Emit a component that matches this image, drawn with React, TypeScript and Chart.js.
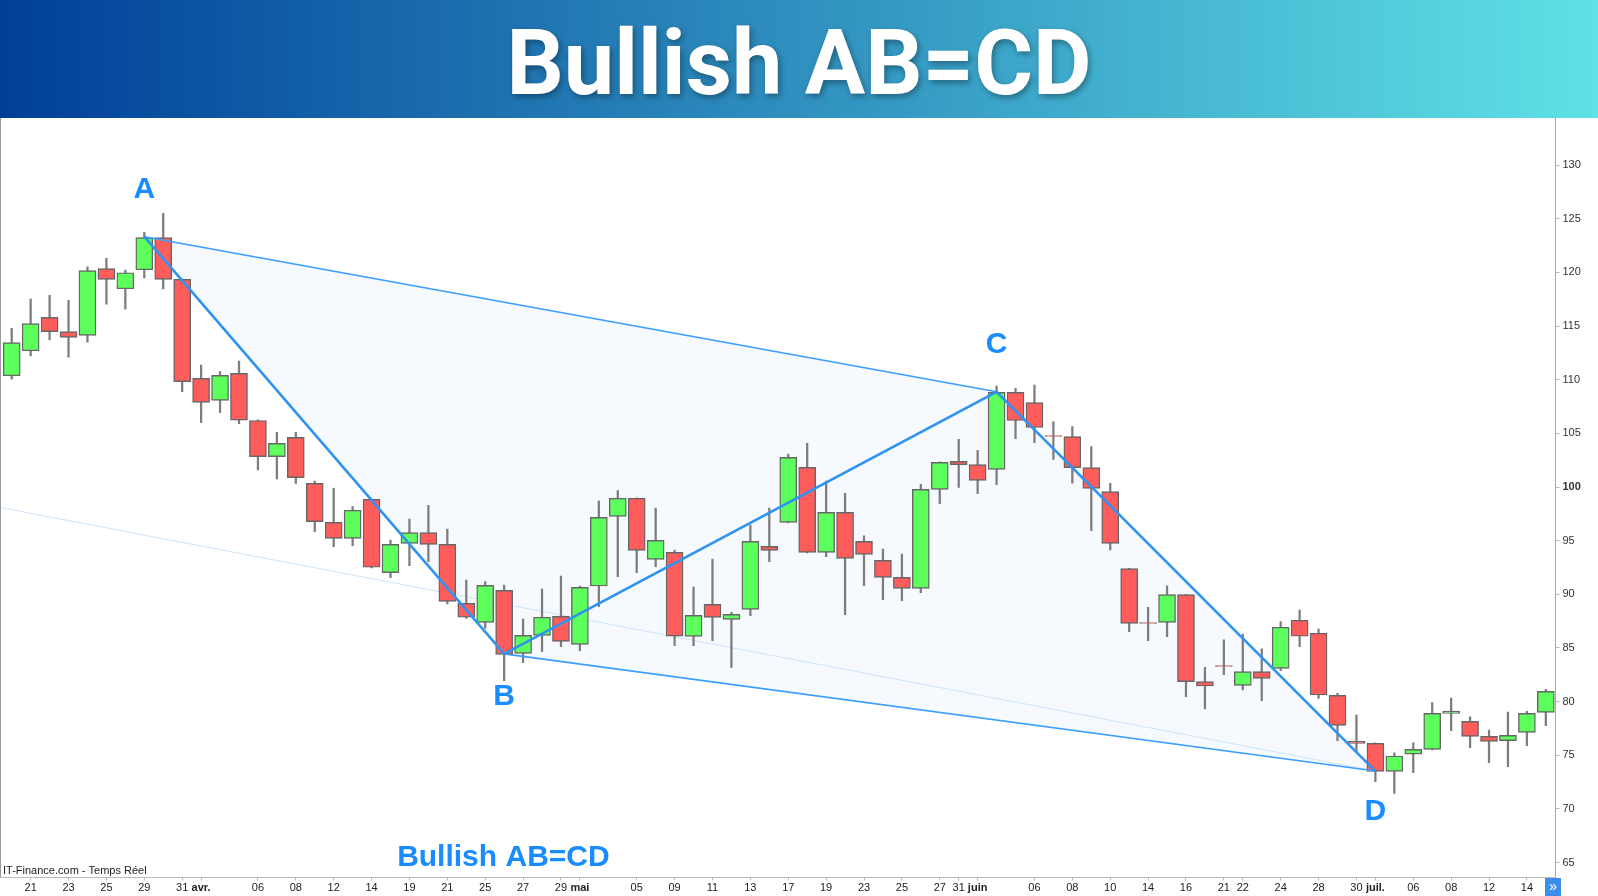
import React, { useEffect, useRef } from 'react';
import { Chart, registerables } from 'chart.js';
Chart.register(...registerables);

// ---- Candles (index 0..81) ----
const candleOpen = [
  110.37, 112.7, 115.81, 114.48, 114.13, 120.35, 118.48, 120.25, 123.24, 119.35,
  110.13, 108.08, 110.59, 106.2, 102.84, 104.63, 100.34, 96.71, 95.22, 98.85,
  92.02, 94.75, 95.75, 94.66, 89.16, 87.39, 90.37, 84.5, 86.18, 87.95,
  85.34, 90.78, 97.27, 98.95, 93.26, 93.91, 86.08, 89.06, 87.66, 88.6,
  94.47, 96.71, 101.83, 93.91, 97.64, 94.93, 93.16, 91.58, 90.55, 99.78,
  102.39, 102.08, 101.64, 108.82, 107.86, 104.8, 104.69, 101.81, 99.57, 92.39,
  87.36, 87.39, 89.97, 81.86, 83.35, 81.52, 82.79, 83.1, 87.58, 86.37,
  80.58, 76.29, 76.11, 73.5, 75.11, 75.55, 78.9, 78.16, 76.76, 76.36,
  77.13, 79.0,
];
const candleHigh = [
  114.79, 117.52, 117.86, 117.4, 120.53, 121.31, 120.22, 123.73, 125.5, 119.4,
  111.37, 110.75, 111.74, 106.25, 105.1, 105.1, 100.56, 99.88, 98.17, 98.9,
  95.06, 97.02, 98.29, 96.09, 91.33, 91.18, 90.87, 87.7, 90.5, 91.71,
  90.77, 98.7, 99.66, 99.0, 98.04, 94.13, 90.68, 93.29, 88.32, 96.46,
  98.04, 103.07, 104.07, 100.56, 99.41, 95.46, 94.22, 93.75, 100.25, 102.35,
  104.44, 103.42, 109.41, 109.19, 109.5, 106.09, 105.63, 103.76, 100.35, 92.42,
  88.79, 90.78, 90.0, 83.2, 85.75, 86.3, 84.91, 87.45, 88.54, 86.77,
  80.77, 78.75, 76.15, 75.24, 76.17, 79.9, 80.33, 78.59, 77.35, 79.03,
  79.09, 81.14,
];
const candleLow = [
  110.06, 112.21, 113.7, 112.11, 113.51, 117.05, 116.59, 119.48, 118.45, 108.88,
  105.99, 106.93, 105.9, 101.6, 100.75, 100.34, 95.84, 94.44, 94.53, 92.45,
  91.55, 92.67, 93.04, 89.1, 87.76, 86.83, 81.95, 83.63, 84.66, 85.12,
  84.75, 88.85, 91.65, 92.02, 92.58, 85.21, 85.21, 85.68, 83.19, 88.01,
  93.04, 96.65, 93.85, 93.51, 88.1, 90.8, 89.5, 89.4, 90.15, 98.44,
  99.97, 99.38, 100.22, 104.5, 104.13, 102.58, 100.35, 95.93, 94.13, 86.52,
  85.68, 86.06, 80.46, 79.31, 82.51, 81.09, 80.09, 82.89, 85.12, 80.31,
  76.36, 75.33, 72.54, 71.45, 73.37, 75.5, 77.29, 75.7, 74.31, 73.93,
  75.89, 77.75,
];
const candleClose = [
  113.45, 115.22, 114.48, 113.95, 120.16, 119.35, 119.97, 123.24, 119.35, 109.82,
  107.89, 110.41, 106.24, 102.84, 104.07, 100.87, 96.77, 95.22, 97.83, 92.52,
  94.66, 95.75, 94.66, 89.35, 87.86, 90.84, 84.41, 86.18, 87.86, 85.62,
  90.65, 97.17, 98.95, 94.1, 95.03, 86.1, 88.04, 87.85, 88.13, 94.93,
  94.1, 102.76, 93.91, 97.64, 93.35, 93.72, 91.58, 90.55, 99.78, 102.3,
  102.08, 100.62, 108.82, 106.2, 105.55, 104.74, 101.81, 99.88, 94.75, 87.3,
  87.3, 89.97, 81.86, 81.46, 83.3, 82.79, 82.17, 86.93, 86.09, 80.62,
  77.79, 76.11, 73.5, 74.93, 75.55, 78.9, 79.12, 76.76, 76.29, 76.85,
  78.9, 80.95,
];

// ---- X axis labels (candle index -> text) ----
const xLabelIndex = [1, 3, 5, 7, 9, 10, 13, 15, 17, 19, 21, 23, 25, 27, 29, 30, 33, 35, 37, 39, 41, 43, 45, 47, 49, 50, 51, 54, 56, 58, 60, 62, 64, 65, 67, 69, 71, 72, 74, 76, 78, 80];
const xLabelText = ['21', '23', '25', '29', '31', 'avr.', '06', '08', '12', '14', '19', '21', '25', '27', '29', 'mai', '05', '09', '11', '13', '17', '19', '23', '25', '27', '31', 'juin', '06', '08', '10', '14', '16', '21', '22', '24', '28', '30', 'juil.', '06', '08', '12', '14'];
const monthLabels = ['avr.', 'mai', 'juin', 'juil.'];

// ---- Y axis ticks ----
const yTicks = [65, 70, 75, 80, 85, 90, 95, 100, 105, 110, 115, 120, 125, 130];

// ---- AB=CD pattern points ----
const patternNames = ['A', 'B', 'C', 'D'];
const patternX = [7, 26, 52, 72];
const patternY = [123.33, 84.45, 108.88, 73.53];
const letterY = [127.7, 80.5, 113.3, 69.7];

// faint guide line
const guideX = [-0.62, 72];
const guideY = [98.1, 73.53];

// bottom caption
const captionText = 'Bullish AB=CD';
const captionX = 25.96;
const captionY = 65.42;
const sourceText = 'IT-Finance.com - Temps Réel';

const titleText = 'Bullish AB=CD';

const GREEN = '#5cff5c';
const RED = '#ff5c5c';

export default function App() {
  const ref = useRef<HTMLCanvasElement>(null);

  useEffect(() => {
    document.body.style.margin = '0';
    const canvas = ref.current;
    if (!canvas) return;
    const idx = candleOpen.map((_, i) => i);
    const pt = (k: number) => ({ x: patternX[k], y: patternY[k] });

    const annotPlugin = {
      id: 'annot',
      afterDatasetsDraw(chart: any) {
        const { ctx, scales, chartArea } = chart;
        const xs = scales.x;
        const ys = scales.y;
        ctx.save();
        ctx.fillStyle = '#1a8cff';
        ctx.font = 'bold 30px "Liberation Sans", Arial, sans-serif';
        ctx.textAlign = 'center';
        ctx.textBaseline = 'middle';
        patternNames.forEach((n, k) => {
          ctx.fillText(n, xs.getPixelForValue(patternX[k]), ys.getPixelForValue(letterY[k]));
        });
        ctx.fillText(captionText, xs.getPixelForValue(captionX), ys.getPixelForValue(captionY));
        ctx.fillStyle = '#222';
        ctx.font = '11px "Liberation Sans", Arial, sans-serif';
        ctx.textAlign = 'left';
        ctx.textBaseline = 'bottom';
        ctx.fillText(sourceText, chartArea.left + 3, chartArea.bottom - 1);
        ctx.strokeStyle = '#999';
        ctx.lineWidth = 1;
        ctx.beginPath();
        ctx.moveTo(chartArea.left + 0.5, chartArea.top);
        ctx.lineTo(chartArea.left + 0.5, chartArea.bottom);
        ctx.stroke();
        ctx.restore();
      },
    };

    const chart = new Chart(canvas, {
      type: 'bar',
      data: {
        datasets: [
          {
            type: 'line',
            data: [pt(0), pt(2), pt(3), pt(1), pt(0)],
            fill: 'shape',
            backgroundColor: '#f6faff',
            borderWidth: 0,
            borderColor: 'rgba(0,0,0,0)',
            pointRadius: 0,
            tension: 0,
            order: 10,
          } as any,
          {
            type: 'line',
            data: guideX.map((x, i) => ({ x, y: guideY[i] })),
            borderColor: '#cde3fb',
            borderWidth: 1,
            pointRadius: 0,
            fill: false,
            order: 9,
          } as any,
          {
            type: 'bar',
            data: idx.map((i) => ({ x: i, y: [candleLow[i], candleHigh[i]] })),
            backgroundColor: '#7d7d7d',
            barThickness: 1.6,
            grouped: false,
            order: 8,
          } as any,
          {
            type: 'bar',
            data: idx.map((i) => ({
              x: i,
              y: [candleOpen[i], Math.abs(candleClose[i] - candleOpen[i]) < 0.08 ? candleOpen[i] - 0.08 : candleClose[i]],
            })),
            backgroundColor: idx.map((i) => (candleClose[i] > candleOpen[i] ? GREEN : RED)),
            borderColor: '#666',
            borderWidth: 1.4,
            borderSkipped: false,
            barThickness: 17,
            grouped: false,
            order: 7,
          } as any,
          {
            type: 'line',
            data: [pt(0), pt(2)],
            borderColor: '#3a9eff',
            borderWidth: 1.6,
            pointRadius: 0,
            fill: false,
            order: 2,
          } as any,
          {
            type: 'line',
            data: [pt(1), pt(3)],
            borderColor: '#3a9eff',
            borderWidth: 1.6,
            pointRadius: 0,
            fill: false,
            order: 2,
          } as any,
          {
            type: 'line',
            data: [pt(0), pt(1), pt(2), pt(3)],
            borderColor: '#2f93f0',
            borderWidth: 2.6,
            pointRadius: 0,
            tension: 0,
            fill: false,
            order: 1,
          } as any,
        ],
      },
      options: {
        responsive: false,
        animation: false,
        events: [],
        layout: { padding: 0, autoPadding: false },
        plugins: { legend: { display: false }, tooltip: { enabled: false } },
        scales: {
          x: {
            type: 'linear',
            min: -0.618,
            max: 81.51,
            offset: false,
            afterBuildTicks: (s: any) => {
              s.ticks = xLabelIndex.map((v) => ({ value: v }));
            },
            afterFit: (s: any) => {
              s.height = 18.5;
              s.paddingLeft = 0;
              s.paddingRight = 0;
            },
            ticks: {
              autoSkip: false,
              maxRotation: 0,
              padding: 1,
              color: '#222',
              font: (c: any) => {
                const i = xLabelIndex.indexOf(c.tick?.value);
                const t = i >= 0 ? xLabelText[i] : '';
                return { family: '"Liberation Sans", Arial, sans-serif', size: 11, weight: monthLabels.includes(t) ? 'bold' : 'normal' };
              },
              callback: (v: any) => {
                const i = xLabelIndex.indexOf(Number(v));
                return i >= 0 ? xLabelText[i] : '';
              },
            },
            grid: { drawOnChartArea: false, tickLength: 3, tickColor: '#bbb', offset: false },
            border: { color: '#bbb' },
          } as any,
          y: {
            type: 'linear',
            position: 'right',
            min: 63.61,
            max: 134.39,
            afterBuildTicks: (s: any) => {
              s.ticks = yTicks.map((v) => ({ value: v }));
            },
            afterFit: (s: any) => {
              s.width = 42.5;
              s.paddingTop = 0;
              s.paddingBottom = 0;
            },
            ticks: {
              padding: 3,
              color: '#333',
              font: (c: any) => ({ family: '"Liberation Sans", Arial, sans-serif', size: 11, weight: c.tick?.value === 100 ? 'bold' : 'normal' }),
              callback: (v: any) => String(v),
            },
            grid: { drawOnChartArea: false, tickLength: 4, tickColor: '#bbb' },
            border: { color: '#aaa' },
          } as any,
        },
      } as any,
      plugins: [annotPlugin],
    });
    return () => chart.destroy();
  }, []);

  return (
    <div style={{ position: 'fixed', left: 0, top: 0, width: 1598, height: 896, background: '#fff', overflow: 'hidden' }}>
      <div
        style={{
          position: 'absolute',
          left: 0,
          top: 0,
          width: 1598,
          height: 118,
          background: 'linear-gradient(90deg, #003f98 0%, #5fe1e6 100%)',
          display: 'flex',
          alignItems: 'center',
          justifyContent: 'center',
        }}
      >
        <span
          style={{
            fontFamily: 'Roboto, "Open Sans", sans-serif',
            fontWeight: 700,
            fontSize: 90,
            color: '#fff',
            lineHeight: 1,
            textShadow: '2px 3px 6px rgba(0,0,0,0.35)',
            marginTop: 10,
          }}
        >
          {titleText}
        </span>
      </div>
      <canvas ref={ref} width={1598} height={778} style={{ position: 'absolute', left: 0, top: 118, width: 1598, height: 778 }} />
      <div
        style={{
          position: 'absolute',
          left: 1545,
          top: 878,
          width: 16,
          height: 18,
          background: '#3a8ee8',
          color: '#fff',
          fontFamily: '"Liberation Sans", Arial, sans-serif',
          fontSize: 14,
          lineHeight: '16px',
          textAlign: 'center',
        }}
      >
        »
      </div>
    </div>
  );
}
